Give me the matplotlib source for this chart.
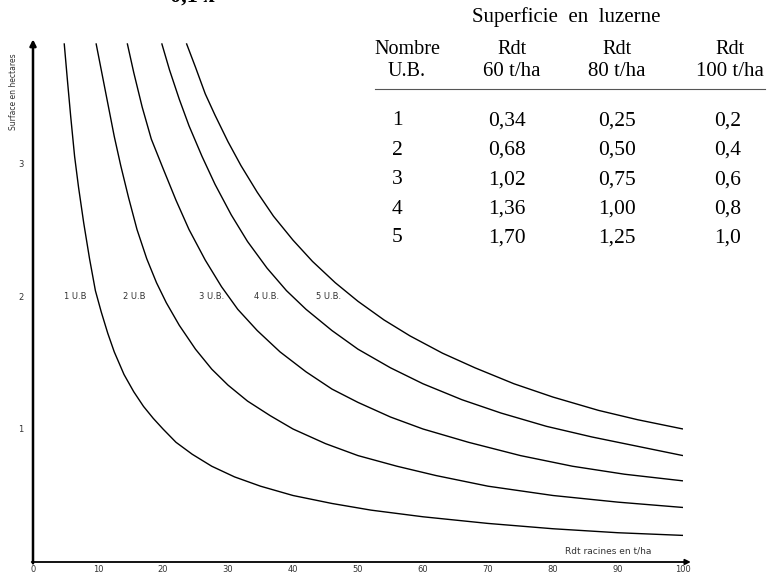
import matplotlib
matplotlib.use("Agg")
import matplotlib.pyplot as plt
from matplotlib.lines import Line2D

W, H = 770, 574

# ── curves: Rdt racines (t/ha) -> surface (ha) ──────────────────────────────
ub1_x = [4.8, 5.3, 5.8, 6.4, 7.0, 7.8, 8.7, 9.6, 10.5, 11.5, 12.5, 14, 15.5, 17,
         18.5, 20, 22, 24.5, 27.5, 31, 35, 40, 46, 52, 60, 70, 80, 90, 100]
ub1_y = [3.90, 3.62, 3.35, 3.05, 2.82, 2.55, 2.28, 2.04, 1.88, 1.72, 1.58, 1.41,
         1.28, 1.17, 1.08, 1.00, 0.90, 0.81, 0.72, 0.64, 0.57, 0.50, 0.44, 0.39,
         0.34, 0.29, 0.25, 0.22, 0.20]

ub2_x = [9.7, 10.5, 11.5, 12.5, 13.5, 14.7, 16, 17.5, 19, 20.5, 22.5, 25, 27.5,
         30, 33, 36.5, 40, 45, 50, 56, 62, 70, 80, 90, 100]
ub2_y = [3.90, 3.70, 3.45, 3.20, 2.98, 2.74, 2.50, 2.28, 2.10, 1.95, 1.78, 1.60,
         1.45, 1.33, 1.21, 1.10, 1.00, 0.89, 0.80, 0.72, 0.65, 0.57, 0.50, 0.45,
         0.41]

ub3_x = [14.5, 15.5, 16.8, 18.2, 20, 22, 24, 26.5, 29, 31.5, 34.5, 38, 42, 46,
         50, 55, 60, 67, 75, 83, 91, 100]
ub3_y = [3.90, 3.68, 3.42, 3.18, 2.96, 2.72, 2.50, 2.27, 2.07, 1.90, 1.74, 1.58,
         1.43, 1.30, 1.20, 1.09, 1.00, 0.90, 0.80, 0.72, 0.66, 0.61]

ub4_x = [19.8, 21, 22.5, 24, 26, 28, 30.5, 33, 36, 39, 42, 46, 50, 55, 60, 66,
         72, 79, 86, 93, 100]
ub4_y = [3.90, 3.70, 3.48, 3.28, 3.05, 2.84, 2.61, 2.41, 2.21, 2.04, 1.90, 1.74,
         1.60, 1.46, 1.34, 1.22, 1.12, 1.02, 0.94, 0.87, 0.80]

ub5_x = [23.6, 25, 26.5, 28, 30, 32, 34.5, 37, 40, 43, 46.5, 50, 54, 58, 63, 68,
         74, 80, 87, 93, 100]
ub5_y = [3.90, 3.72, 3.52, 3.36, 3.16, 2.98, 2.78, 2.60, 2.42, 2.26, 2.10, 1.96,
         1.82, 1.70, 1.57, 1.46, 1.34, 1.24, 1.14, 1.07, 1.00]

curve_labels = ["1 U.B", "2 U.B", "3 U.B.", "4 U.B.", "5 U.B."]
label_x = [6.5, 15.6, 27.5, 36.0, 45.5]

x_ticks = [0, 10, 20, 30, 40, 50, 60, 70, 80, 90, 100]
y_ticks = [1, 2, 3]

# ── table values ──────────────────────────────────────────────────────────────
nb_ub = [1, 2, 3, 4, 5]
rdt60 = [0.34, 0.68, 1.02, 1.36, 1.70]
rdt80 = [0.25, 0.50, 0.75, 1.00, 1.25]
rdt100 = [0.2, 0.4, 0.6, 0.8, 1.0]


def fr(v, nd):
    return f"{v:.{nd}f}".replace(".", ",")


def px(x, y):
    return x / W, 1 - y / H


fig = plt.figure(figsize=(W / 100, H / 100), dpi=100)
fig.patch.set_facecolor("white")

# axes: x 0..100 -> px 33..683, y 0 -> px 562, 133 px per ha
ax = fig.add_axes([33 / W, 12 / H, 650 / W, 525.35 / H])
ax.set_xlim(0, 100)
ax.set_ylim(0, 3.95)
for s in ax.spines.values():
    s.set_visible(False)

for xs, ys in [(ub1_x, ub1_y), (ub2_x, ub2_y), (ub3_x, ub3_y),
               (ub4_x, ub4_y), (ub5_x, ub5_y)]:
    ax.plot(xs, ys, color="black", lw=1.0, solid_capstyle="butt")

# axes with arrows
ax.annotate("", xy=(0, 3.93), xytext=(0, -0.01),
            arrowprops=dict(arrowstyle="-|>", lw=1.8, color="black",
                            mutation_scale=9, shrinkA=0, shrinkB=0),
            annotation_clip=False)
ax.annotate("", xy=(101.2, 0), xytext=(-0.2, 0),
            arrowprops=dict(arrowstyle="-|>", lw=1.3, color="black",
                            mutation_scale=8, shrinkA=0, shrinkB=0),
            annotation_clip=False)

ax.set_xticks(x_ticks)
ax.set_xticklabels([str(t) for t in x_ticks])
ax.set_yticks(y_ticks)
ax.set_yticklabels([str(t) for t in y_ticks])
ax.tick_params(axis="both", length=0, labelsize=6, labelcolor="#333333")
ax.tick_params(axis="x", pad=2)
ax.tick_params(axis="y", pad=7)

for lab, lx in zip(curve_labels, label_x):
    ax.text(lx, 2.0, lab, fontsize=6, color="#333333", ha="center", va="center")

ax.text(81.8, 0.08, "Rdt racines en t/ha", fontsize=6.5, color="#333333",
        ha="left", va="center")

fig.text(*px(14, 92), "Surface en hectares", rotation=90, fontsize=5.5,
         color="#333333", ha="center", va="center")

# title line cut by the top edge, as in the scan
fig.text(*px(192, -3), "0,1 x", fontsize=16, fontweight="bold",
         family="Liberation Serif", ha="center", va="center")

# ── table ─────────────────────────────────────────────────────────────────────
serif = dict(family="Liberation Serif", color="black", ha="center", va="center")
fig.text(*px(566, 17), "Superficie  en  luzerne", fontsize=15, **serif)

col_x = [407, 512, 617, 730]
fig.text(*px(col_x[0], 50), "Nombre", fontsize=14.5, **serif)
fig.text(*px(col_x[0], 72), "U.B.", fontsize=14.5, **serif)
for cx, r in zip(col_x[1:], ["60 t/ha", "80 t/ha", "100 t/ha"]):
    fig.text(*px(cx, 50), "Rdt", fontsize=14.5, **serif)
    fig.text(*px(cx, 72), r, fontsize=15, **serif)

fig.add_artist(Line2D([375 / W, 765 / W], [1 - 89 / H] * 2, lw=0.8,
                      color="#555555"))

row_y = [121, 150, 180, 209, 238]
for i, ry in enumerate(row_y):
    fig.text(*px(397, ry), str(nb_ub[i]), fontsize=15.5, **serif)
    fig.text(*px(507, ry), fr(rdt60[i], 2), fontsize=15.5, **serif)
    fig.text(*px(617, ry), fr(rdt80[i], 2), fontsize=15.5, **serif)
    fig.text(*px(728, ry), fr(rdt100[i], 1), fontsize=15.5, **serif)

fig.savefig("out.png", dpi=100, facecolor="white")
plt.close(fig)
